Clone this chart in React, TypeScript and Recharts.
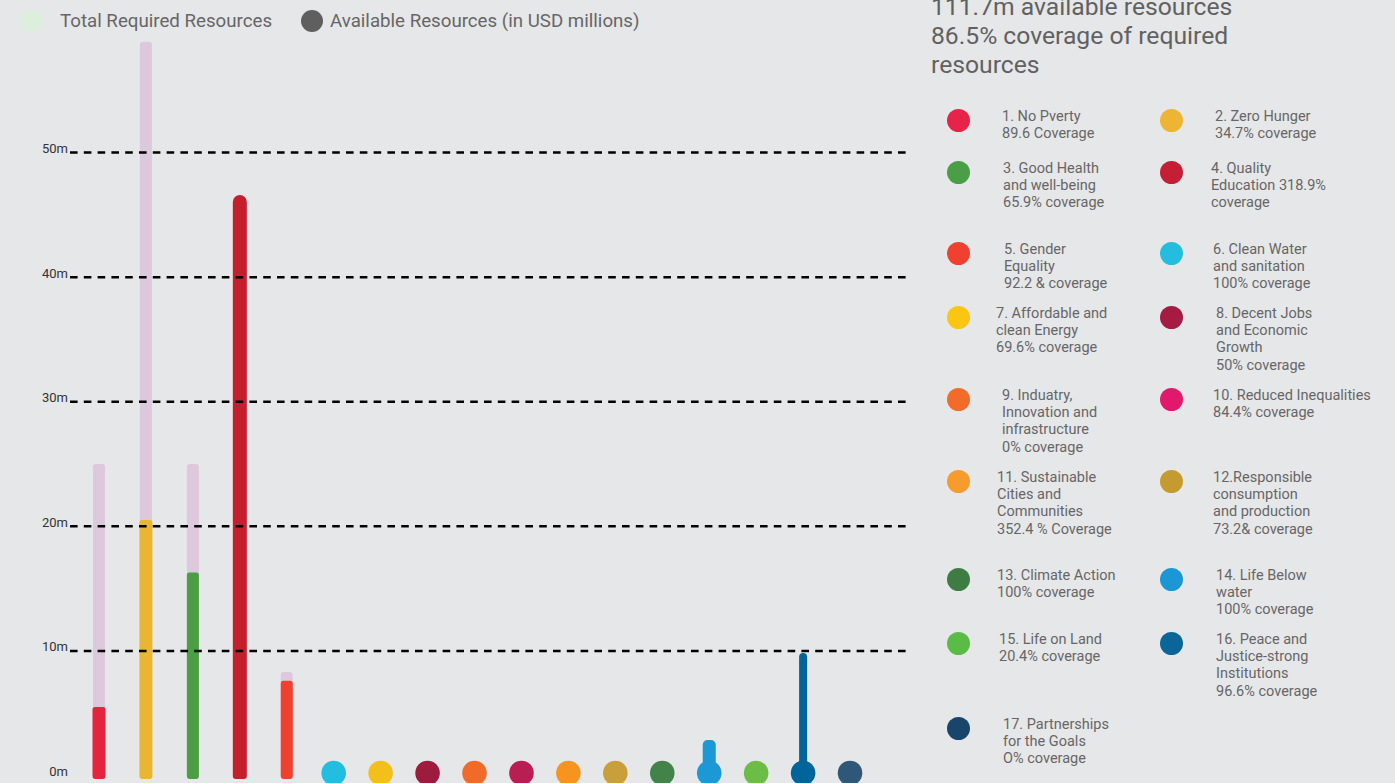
import { Bar, ComposedChart, ReferenceLine, Scatter, XAxis, YAxis } from 'recharts'

// SDG goals along the x axis
const CATEGORIES = [
  'SDG 1', 'SDG 2', 'SDG 3', 'SDG 4', 'SDG 5', 'SDG 6', 'SDG 7', 'SDG 8', 'SDG 9',
  'SDG 10', 'SDG 11', 'SDG 12', 'SDG 13', 'SDG 14', 'SDG 15', 'SDG 16', 'SDG 17'
]

// USD millions
const REQUIRED = [25.0, 58.9, 25.0, 14.6, 8.3, 0, 0, 0, 0, 0, 0, 0, 0, 2.85, 0, 9.8, 0]
const AVAILABLE = [5.5, 20.5, 16.3, 46.6, 7.6, 0, 0, 0, 0, 0, 0, 0, 0, 2.85, 0, 9.84, 0]
// goals drawn with a round marker at the base
const MARKERS: (number | null)[] = [null, null, null, null, null, 0, 0, 0, 0, 0, 0, 0, 0, 0, 0, 0, 0]

const Y_TICKS = [0, 10, 20, 30, 40, 50]
const GRID_VALUES = [10, 20, 30, 40, 50]

const SUMMARY_LINES = ['111.7m available resources', '86.5% coverage of required', 'resources']

const GOAL_LABELS: string[][] = [
  ['1. No Pverty', '89.6 Coverage'],
  ['2. Zero Hunger', '34.7% coverage'],
  ['3. Good Health', 'and well-being', '65.9% coverage'],
  ['4. Quality', 'Education 318.9%', 'coverage'],
  ['5. Gender', 'Equality', '92.2 & coverage'],
  ['6. Clean Water', 'and sanitation', '100% coverage'],
  ['7. Affordable and', 'clean Energy', '69.6% coverage'],
  ['8. Decent Jobs', 'and Economic', 'Growth', '50% coverage'],
  ['9. Induatry,', 'Innovation and', 'infrastructure', '0% coverage'],
  ['10. Reduced Inequalities', '84.4% coverage'],
  ['11. Sustainable', 'Cities and', 'Communities', '352.4 % Coverage'],
  ['12.Responsible', 'consumption', 'and production', '73.2& coverage'],
  ['13. Climate Action', '100% coverage'],
  ['14. Life Below', 'water', '100% coverage'],
  ['15. Life on Land', '20.4% coverage'],
  ['16. Peace and', 'Justice-strong', 'Institutions', '96.6% coverage'],
  ['17. Partnerships', 'for the Goals', 'O% coverage']
]

const CHART_COLORS = [
  '#e6233f', '#e9b632', '#4b9e44', '#c51f2e', '#ef412e', '#23bde0', '#f2c019', '#9e1b40', '#f26a2a',
  '#b91e52', '#f7941f', '#c89f3a', '#43834a', '#1b98d6', '#6cbd45', '#00659a', '#2e5778'
]
const LEGEND_COLORS = [
  '#e8234a', '#edb533', '#4a9e45', '#c51f35', '#ef412e', '#24bde0', '#fbc512', '#a51b43', '#f26b2b',
  '#e1186b', '#f79b2c', '#c59b2f', '#3f7c44', '#1c97d6', '#5bbb47', '#0a6599', '#19456b'
]

const REQUIRED_COLOR = '#dcc9dd'
const BG = '#e6e7e9'
const TEXT = '#666666'

// per-bar look: width and top corner radius of the available bars
const AVAIL_WIDTH: Record<number, number> = { 0: 13, 1: 13, 2: 12, 3: 14, 4: 12, 13: 13, 15: 8 }
const AVAIL_TOP_RADIUS: Record<number, number> = { 0: 2.5, 1: 2.5, 2: 2.5, 3: 7, 4: 2.5, 13: 5, 15: 4 }

// legend panel layout (dot centre + text left)
const LEGEND_POS = [
  [958, 120, 1002], [1171, 120, 1215],
  [958, 172, 1003], [1171, 172, 1211],
  [958, 253, 1004], [1171, 253, 1213],
  [958, 317, 996], [1171, 317, 1216],
  [958, 399, 1002], [1171, 399, 1213],
  [958, 481, 997], [1171, 481, 1213],
  [958, 579, 997], [1171, 579, 1216],
  [958, 643, 999], [1171, 643, 1216],
  [958, 728, 1003]
]

const rows = CATEGORIES.map((name, idx) => ({
  name,
  idx,
  required: REQUIRED[idx],
  available: AVAILABLE[idx],
  marker: MARKERS[idx]
}))

function roundedBarPath(x0: number, x1: number, top: number, bottom: number, rt: number, rb: number) {
  return [
    `M${x0 + rt},${top}`,
    `L${x1 - rt},${top}`,
    `A${rt},${rt} 0 0 1 ${x1},${top + rt}`,
    `L${x1},${bottom - rb}`,
    `A${rb},${rb} 0 0 1 ${x1 - rb},${bottom}`,
    `L${x0 + rb},${bottom}`,
    `A${rb},${rb} 0 0 1 ${x0},${bottom - rb}`,
    `L${x0},${top + rt}`,
    `A${rt},${rt} 0 0 1 ${x0 + rt},${top}`,
    'Z'
  ].join(' ')
}

function makeBarShape(kind: 'required' | 'available') {
  return (props: any) => {
    const { x, y, width, height, payload } = props
    if (!height || height <= 0) {
      return <g />
    }
    const idx = payload.idx
    const cx = x + width / 2
    const availW = AVAIL_WIDTH[idx] ?? 12
    const w = kind === 'required' ? Math.min(12, availW) : availW
    const rt = kind === 'required' ? 3 : AVAIL_TOP_RADIUS[idx] ?? 3
    const top = y
    const bottom = y + height + 3.5
    const fill = kind === 'required' ? REQUIRED_COLOR : CHART_COLORS[idx]
    return <path d={roundedBarPath(cx - w / 2, cx + w / 2, top, bottom, rt, 3)} fill={fill} />
  }
}

function MarkerShape(props: any) {
  const { cx, cy, payload } = props
  if (!payload || payload.marker == null) {
    return <g />
  }
  return <circle cx={cx} cy={cy - 2.5} r={12.3} fill={CHART_COLORS[payload.idx]} />
}

function YTick(props: any) {
  const { x, y, payload } = props
  return (
    <text x={x + 4} y={y - 4} textAnchor="end" dominantBaseline="central" fontSize={13} fill="#333" fontFamily="Roboto">
      {`${payload.value}m`}
    </text>
  )
}

function TopLegend() {
  const item = (left: number, dot: string, text: string, textLeft: number) => (
    <div key={text}>
      <div
        style={{
          position: 'absolute',
          left: left - 11,
          top: 10,
          width: 22,
          height: 22,
          borderRadius: '50%',
          background: dot
        }}
      />
      <div
        style={{
          position: 'absolute',
          left: textLeft,
          top: 8,
          fontSize: 18.7,
          lineHeight: '26px',
          color: TEXT,
          whiteSpace: 'nowrap'
        }}
      >
        {text}
      </div>
    </div>
  )
  return (
    <div style={{ position: 'absolute', left: 0, top: 0, width: 700, height: 40 }}>
      {item(32, '#dcefdc', 'Total Required Resources', 60)}
      {item(312, '#5f5f5f', 'Available Resources (in USD millions)', 330)}
    </div>
  )
}

export default function App() {
  return (
    <div
      style={{
        position: 'absolute',
        left: 0,
        top: 0,
        width: 1395,
        height: 783,
        overflow: 'hidden',
        background: BG,
        fontFamily: 'Roboto, sans-serif'
      }}
    >
      <ComposedChart
        width={1395}
        height={783}
        data={rows}
        margin={{ top: 28, right: 488, bottom: 7.5, left: 0 }}
        barSize={13}
        barGap={-13}
      >
        <XAxis dataKey="name" hide padding={{ left: 5.5, right: 33.5 }} />
        <YAxis
          width={70}
          domain={[0, 60]}
          ticks={Y_TICKS}
          axisLine={false}
          tickLine={false}
          tick={<YTick />}
          tickMargin={0}
          interval={0}
        />
        {GRID_VALUES.map((v) => (
          <ReferenceLine key={v} y={v} stroke="#000" strokeWidth={2.5} strokeDasharray="7.6 6.2" />
        ))}
        <Bar dataKey="required" shape={makeBarShape('required')} isAnimationActive={false} />
        <Bar dataKey="available" shape={makeBarShape('available')} isAnimationActive={false} />
        <Scatter dataKey="marker" shape={<MarkerShape />} isAnimationActive={false} />
      </ComposedChart>

      <TopLegend />

      <div style={{ position: 'absolute', left: 931, top: -8, fontSize: 24.7, lineHeight: '29px', color: '#616161' }}>
        {SUMMARY_LINES.map((line) => (
          <div key={line} style={{ whiteSpace: 'nowrap' }}>{line}</div>
        ))}
      </div>

      {GOAL_LABELS.map((lines, i) => {
        const [dotX, dotY, textX] = LEGEND_POS[i]
        return (
          <div key={i}>
            <div
              style={{
                position: 'absolute',
                left: dotX - 11.5,
                top: dotY - 11.5,
                width: 23,
                height: 23,
                borderRadius: '50%',
                background: LEGEND_COLORS[i]
              }}
            />
            <div
              style={{
                position: 'absolute',
                left: textX,
                top: dotY - 12.4,
                fontSize: 14.5,
                lineHeight: '17.4px',
                color: TEXT,
                whiteSpace: 'nowrap'
              }}
            >
              {lines.map((l) => (
                <div key={l}>{l}</div>
              ))}
            </div>
          </div>
        )
      })}
    </div>
  )
}
